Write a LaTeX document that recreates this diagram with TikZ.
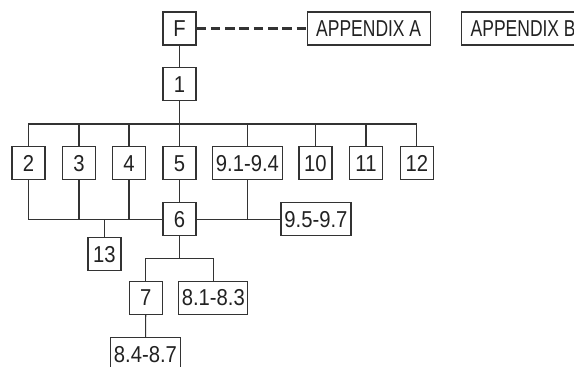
\documentclass[tikz,border=0pt]{standalone}
\usepackage{fontspec}
\setmainfont{Liberation Sans}
\newfontfamily\letfont{Liberation Sans}[FakeStretch=0.76]
\newfontfamily\numfont{Liberation Sans}[FakeStretch=0.88]
\definecolor{ln}{HTML}{333333}
\definecolor{tx}{HTML}{222222}
\begin{document}
\begin{tikzpicture}[x=1pt,y=-1pt,line width=1.1pt,
  conn/.style={draw=ln,line width=1.1pt},
  dashlink/.style={draw=ln,line width=2.4pt,dash pattern=on 9.5pt off 4.8pt},
  box/.style={draw=ln,line width=1.1pt,inner sep=0pt,minimum width=33pt,minimum height=33pt,
    text height=16.5pt,text depth=0pt,text=tx,font=\numfont\fontsize{23}{26}\selectfont},
  wbox/.style={box,minimum width=70pt},
  abox/.style={box,minimum width=123pt,font=\letfont\fontsize{23}{26}\selectfont}]
\clip (0,0) rectangle (574,367);
\fill[white] (0,0) rectangle (574,367);
\node[box] (F) at (179.5,28.5) {F};
\node[abox] (A) at (368.7,28.5) {APPENDIX A};
\node[abox] (B) at (523.2,28.5) {APPENDIX B};
\node[box] (n1) at (179.5,84.2) {1};
\node[box] (n2) at (28.5,163.3) {2};
\node[box] (n3) at (79,163.3) {3};
\node[box] (n4) at (129,163.3) {4};
\node[box] (n5) at (179.5,163.3) {5};
\node[wbox] (n91) at (247.5,163.3) {9.1-9.4};
\node[box] (n10) at (315.5,163.3) {10};
\node[box] (n11) at (366,163.3) {11};
\node[box] (n12) at (416.8,163.3) {12};
\node[box] (n6) at (179.5,219.3) {6};
\node[box] (n13) at (104.5,254.3) {13};
\node[wbox] (n95) at (316,219.3) {9.5-9.7};
\node[box] (n7) at (145.8,297.7) {7};
\node[wbox,minimum width=69pt] (n81) at (213.3,297.7) {8.1-8.3};
\node[wbox] (n84) at (145.5,354) {8.4-8.7};
\coordinate (bus) at (0,124);
\coordinate (bus2) at (0,258.3);
% dashed link
\draw[dashlink] (F.east) -- (A.west);
\draw[conn] (F) -- (n1);
\draw[conn] (n1.south) -- (n1.south |- bus);
\draw[conn] (n2.north) -- (n2.north |- bus) -- (n12.north |- bus) -- (n12.north);
\foreach \n in {n3,n4,n5,n91,n10,n11} \draw[conn] (\n.north) -- (\n.north |- bus);
% lower bus
\draw[conn] (n2.south) |- (n6.west);
\draw[conn] (n3.south) -- (n3.south |- n6.west);
\draw[conn] (n4.south) -- (n4.south |- n6.west);
\draw[conn] (n13.north) -- (n13.north |- n6.west);
\draw[conn] (n5) -- (n6);
\draw[conn] (n6.east) -- (n95.west);
\draw[conn] (n91.south) -- (n91.south |- n6.east);
% below 6
\draw[conn] (n6.south) -- (n6.south |- bus2);
\draw[conn] (n7.north) -- (n7.north |- bus2) -| (n81.north);
\draw[conn] (n7) -- (n84);
\end{tikzpicture}
\end{document}
